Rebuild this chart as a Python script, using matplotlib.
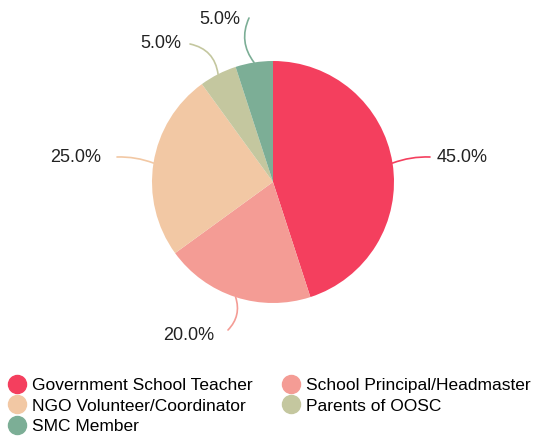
import numpy as np
import matplotlib
matplotlib.use('Agg')
import matplotlib.pyplot as plt
from matplotlib.lines import Line2D

labels = ['Government School Teacher', 'School Principal/Headmaster',
          'NGO Volunteer/Coordinator', 'Parents of OOSC', 'SMC Member']
values = [45, 20, 25, 5, 5]
colors = ['#F43F5E', '#F49C95', '#F2C8A4', '#C4C79F', '#7CAE96']

plt.rcParams['font.family'] = ['Liberation Sans', 'DejaVu Sans']

W, H = 534, 436
fig = plt.figure(figsize=(W / 100, H / 100), dpi=100)

# pie centre / radius in pixels
cx, cy, r = 273, 182, 121
ax = fig.add_axes([(cx - r) / W, (H - cy - r) / H, 2 * r / W, 2 * r / H])
wedges, _ = ax.pie(values, colors=colors, startangle=90, counterclock=False,
                   radius=1, wedgeprops=dict(linewidth=0))
ax.set_xlim(-1, 1)
ax.set_ylim(-1, 1)
ax.set_aspect('equal')
ax.axis('off')

def px(x, y):
    return ((x - cx) / r, (cy - y) / r)

# leader end (pixels), label anchor (pixels), alignment, curvature
label_pos = [
    ((430, 157), (437, 157), 'left', 0.1),
    ((228, 330), (214, 335), 'right', 0.3),
    ((117, 157), (101, 157), 'right', -0.1),
    ((190, 44), (181, 44), 'right', -0.35),
    ((249, 18), (240, 20), 'right', 0.3),
]

total = sum(values)
for w, v, c, (end, txt, ha, rad) in zip(wedges, values, colors, label_pos):
    mid = np.deg2rad((w.theta1 + w.theta2) / 2)
    edge = (np.cos(mid), np.sin(mid))
    ax.annotate('', xy=edge, xytext=px(*end),
                arrowprops=dict(arrowstyle='-', color=c, lw=1.2,
                                connectionstyle='arc3,rad=%s' % rad,
                                shrinkA=0, shrinkB=0),
                annotation_clip=False)
    ax.text(*px(*txt), '%.1f%%' % (100.0 * v / total), ha=ha, va='center',
            fontsize=13, color='#222222', clip_on=False)

handles = [Line2D([], [], marker='o', linestyle='', markersize=13,
                  markerfacecolor=c, markeredgecolor=c) for c in colors]
order = [0, 2, 4, 1, 3]
fig.legend([handles[i] for i in order], [labels[i] for i in order],
           ncol=2, loc='upper left', bbox_to_anchor=(0.016, 1 - 378 / H),
           frameon=False, fontsize=12.5, handletextpad=0.35,
           labelspacing=0.3, columnspacing=1.7, handlelength=1.0,
           borderaxespad=0, borderpad=0.0)

fig.savefig('out.png', dpi=100)
